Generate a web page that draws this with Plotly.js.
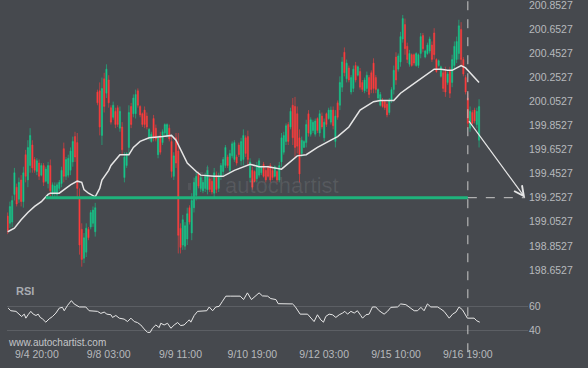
<!DOCTYPE html>
<html><head><meta charset="utf-8">
<script src="https://cdn.plot.ly/plotly-3.0.1.min.js"></script>
<style>html,body{margin:0;padding:0;background:#45484d;}#chart{width:588px;height:368px;}</style>
</head><body><div id="chart"></div>
<script>
const tickIdx = [13,45,77,109,141,173,205];
const tickLabels = ['9/4 20:00','9/8 03:00','9/9 11:00','9/10 19:00','9/12 03:00','9/15 10:00','9/16 19:00'];
const priceTicks = [198.6527,198.8527,199.0527,199.2527,199.4527,199.6527,199.8527,200.0527,200.2527,200.4527,200.6527,200.8527];
const rsiTicks = [40,60];

const open = [199.10,199.04,199.05,199.28,199.34,199.24,199.40,199.22,199.61,199.40,
199.52,199.69,199.57,199.47,199.54,199.44,199.52,199.39,199.37,199.52,
199.28,199.29,199.28,199.33,199.37,199.66,199.43,199.44,199.48,199.55,
199.76,199.71,199.25,198.99,198.75,198.80,198.99,199.01,199.04,198.97,
200.13,200.14,199.77,200.24,200.12,200.23,200.00,199.92,199.97,200.00,
199.83,199.84,199.42,199.52,199.67,200.01,199.95,199.95,200.14,200.01,
199.95,199.98,199.93,199.75,199.72,199.91,199.83,199.61,199.77,199.71,
199.79,199.77,199.83,199.72,199.43,199.75,199.64,199.00,198.86,198.85,
198.91,199.17,198.96,199.17,199.27,199.45,199.33,199.31,199.33,199.32,
199.41,199.39,199.29,199.44,199.33,199.43,199.47,199.52,199.59,199.48,
199.60,199.57,199.59,199.69,199.56,199.57,199.75,199.76,199.42,199.48,
199.47,199.41,199.44,199.46,199.53,199.48,199.51,199.52,199.48,199.43,
199.47,199.40,199.55,199.63,199.72,199.86,199.84,200.02,200.01,199.95,
199.75,199.62,199.67,199.71,199.95,199.78,199.81,199.78,199.91,199.79,
199.93,199.75,199.95,199.91,199.88,199.98,199.72,200.04,200.02,200.17,
200.46,200.24,200.33,200.13,200.16,200.35,200.27,200.30,200.21,200.14,
200.16,200.25,200.29,200.37,200.25,200.08,200.02,200.06,200.05,200.03,
199.96,200.06,200.15,200.42,200.32,200.38,200.57,200.69,200.51,200.36,
200.44,200.44,200.35,200.35,200.45,200.60,200.42,200.45,200.47,200.52,
200.62,200.40,200.35,200.26,200.29,200.30,200.21,200.30,200.21,200.35,
200.40,200.45,200.65,200.40,200.25,200.08,199.83,199.96,199.98,199.86,
199.73];
const high = [199.13,199.22,199.27,199.50,199.37,199.42,199.44,199.51,199.65,199.73,
199.83,199.73,199.59,199.58,199.57,199.54,199.54,199.51,199.55,199.57,
199.38,199.38,199.38,199.40,199.51,199.71,199.59,199.61,199.67,199.76,
199.80,199.79,199.33,199.04,198.96,199.04,199.01,199.15,199.18,199.21,
200.15,200.21,200.25,200.29,200.36,200.27,200.02,200.05,200.00,200.02,
200.01,199.88,199.63,199.63,200.02,200.04,200.11,200.15,200.16,200.02,
199.96,200.01,199.96,199.83,199.80,199.94,199.86,199.77,199.80,199.82,
199.87,199.87,199.86,199.77,199.63,199.79,199.79,199.04,199.11,199.05,
199.17,199.19,199.29,199.42,199.47,199.47,199.44,199.40,199.46,199.52,
199.43,199.42,199.50,199.47,199.46,199.54,199.59,199.69,199.61,199.65,
199.72,199.73,199.61,199.71,199.75,199.82,199.77,199.81,199.58,199.51,
199.48,199.55,199.58,199.52,199.55,199.50,199.52,199.54,199.50,199.52,
199.48,199.55,199.79,199.80,199.87,199.88,200.00,200.08,200.09,200.01,
199.82,199.76,199.73,199.90,199.98,199.92,199.90,199.91,199.92,199.98,
199.96,199.91,199.96,200.00,200.01,200.01,199.98,200.06,200.26,200.42,
200.50,200.40,200.35,200.27,200.35,200.38,200.35,200.33,200.23,200.25,
200.30,200.27,200.31,200.41,200.27,200.16,200.13,200.08,200.06,200.05,
200.08,200.17,200.35,200.46,200.45,200.63,200.77,200.74,200.54,200.48,
200.45,200.45,200.46,200.45,200.62,200.62,200.48,200.54,200.59,200.55,
200.66,200.41,200.40,200.35,200.31,200.34,200.30,200.34,200.44,200.55,
200.59,200.73,200.71,200.42,200.27,200.12,200.01,199.98,200.00,200.00,
200.07];
const low = [198.95,199.00,199.01,199.23,199.18,199.21,199.18,199.17,199.38,199.34,
199.46,199.46,199.46,199.44,199.40,199.43,199.35,199.38,199.33,199.26,
199.26,199.26,199.26,199.31,199.34,199.38,199.40,199.42,199.44,199.51,
199.55,199.25,198.78,198.68,198.71,198.76,198.90,198.99,199.01,198.93,
200.02,199.77,199.69,199.96,200.08,200.00,199.86,199.90,199.83,199.84,
199.80,199.61,199.38,199.50,199.61,199.83,199.92,199.91,200.00,199.92,
199.84,199.83,199.82,199.73,199.71,199.72,199.72,199.58,199.61,199.69,
199.77,199.75,199.72,199.42,199.40,199.50,198.79,198.79,198.82,198.82,
198.86,199.03,198.90,199.13,199.23,199.33,199.30,199.29,199.30,199.28,
199.30,199.28,199.25,199.29,199.30,199.40,199.44,199.50,199.50,199.46,
199.58,199.55,199.52,199.59,199.52,199.52,199.59,199.52,199.38,199.32,
199.38,199.38,199.42,199.44,199.42,199.38,199.42,199.38,199.40,199.42,
199.38,199.38,199.51,199.61,199.69,199.69,199.82,199.69,199.59,199.62,
199.38,199.59,199.67,199.67,199.76,199.76,199.79,199.76,199.79,199.76,
199.82,199.72,199.84,199.90,199.86,199.82,199.67,199.90,199.98,200.13,
200.26,200.21,200.21,200.11,200.13,200.21,200.26,200.15,200.13,200.12,
200.13,200.08,200.12,200.12,200.12,200.06,200.01,200.00,199.98,199.92,
199.94,200.04,200.11,200.19,200.30,200.34,200.54,200.44,200.37,200.34,
200.34,200.35,200.34,200.33,200.41,200.46,200.41,200.44,200.45,200.38,
200.40,200.29,200.34,200.25,200.13,200.09,200.19,200.08,200.17,200.31,
200.37,200.40,200.34,200.26,200.11,199.83,199.80,199.86,199.87,199.83,
199.67];
const close = [198.98,199.18,199.23,199.46,199.20,199.38,199.22,199.46,199.43,199.67,
199.77,199.50,199.48,199.56,199.43,199.52,199.38,199.49,199.52,199.31,
199.36,199.35,199.36,199.38,199.48,199.43,199.57,199.58,199.64,199.72,
199.59,199.33,198.86,198.74,198.92,199.00,198.92,199.13,199.15,199.17,
200.04,199.84,200.16,200.01,200.32,200.04,199.88,200.02,199.86,199.86,
199.97,199.65,199.59,199.62,199.96,199.86,200.08,200.11,200.02,199.94,
199.86,199.86,199.84,199.82,199.78,199.75,199.74,199.75,199.63,199.80,
199.86,199.86,199.74,199.47,199.60,199.54,198.94,198.84,199.07,199.02,
199.12,199.05,199.23,199.38,199.43,199.35,199.42,199.38,199.43,199.48,
199.32,199.30,199.46,199.32,199.43,199.52,199.57,199.67,199.52,199.62,
199.70,199.71,199.54,199.61,199.72,199.77,199.62,199.57,199.55,199.34,
199.39,199.52,199.56,199.51,199.43,199.40,199.43,199.40,199.42,199.51,
199.40,199.52,199.75,199.77,199.85,199.72,199.97,199.75,199.67,199.68,
199.45,199.73,199.72,199.86,199.79,199.90,199.88,199.89,199.81,199.95,
199.84,199.88,199.86,199.98,199.98,199.85,199.93,199.92,200.21,200.38,
200.29,200.37,200.23,200.25,200.32,200.23,200.34,200.17,200.15,200.23,
200.27,200.11,200.15,200.16,200.15,200.15,200.11,200.01,200.00,199.94,
200.06,200.15,200.31,200.23,200.43,200.59,200.74,200.49,200.40,200.45,
200.35,200.37,200.45,200.44,200.59,200.49,200.47,200.52,200.57,200.40,
200.44,200.30,200.39,200.34,200.16,200.13,200.28,200.12,200.40,200.51,
200.55,200.68,200.40,200.28,200.13,199.87,199.97,199.87,199.89,199.97,
200.01];

const maX = [0,3,6,9,12,15,18,19,23,25,28,31,33,34,36,39,41,42,45,46,49,50,54,56,59,63,69,73,75,77,80,84,86,92,96,101,105,108,112,116,122,125,129,133,138,144,147,152,157,163,166,172,175,178,181,185,190,193,196,198,202,204,207,210];
const maY = [198.97,199.00,199.07,199.13,199.18,199.22,199.28,199.29,199.29,199.32,199.36,199.39,199.38,199.32,199.29,199.26,199.33,199.40,199.48,199.52,199.59,199.61,199.61,199.67,199.72,199.75,199.76,199.77,199.73,199.65,199.54,199.47,199.44,199.43,199.43,199.48,199.51,199.53,199.51,199.51,199.49,199.54,199.60,199.61,199.67,199.73,199.76,199.84,199.98,200.05,200.06,200.06,200.12,200.16,200.20,200.26,200.32,200.32,200.31,200.31,200.35,200.33,200.27,200.21];

const rsiX = [0.2,1.4,3.7,5.1,6.2,7.4,8.1,9.1,10.3,11.4,12.6,13.6,14.5,15.5,17.0,18.5,20.0,21.5,23.0,24.4,25.2,26.7,28.4,29.6,31.9,34.8,36.3,40.0,41.5,43.0,44.2,46.0,46.7,48.2,49.7,51.9,53.4,54.9,56.4,57.8,59.3,60.8,62.3,63.5,64.5,66.0,67.5,68.2,69.7,71.2,72.7,74.2,75.7,77.1,78.6,80.1,80.9,81.6,83.1,84.6,86.8,88.7,89.8,91.3,92.7,94.2,95.7,97.2,99.4,103.6,105.1,106.8,108.6,110.6,112.0,113.5,115.8,117.2,119.5,120.5,123.2,126.9,128.0,129.1,130.3,133.6,135.1,136.5,138.0,139.5,140.7,141.7,143.2,144.7,146.2,147.7,149.2,150.2,151.4,152.9,154.4,155.8,157.3,158.1,159.6,161.0,162.5,164.0,165.5,167.7,169.2,170.7,173.7,175.1,177.4,178.9,181.1,182.6,184.1,185.5,187.0,188.5,191.5,193.0,194.4,196.7,198.2,199.7,201.1,202.6,204.1,204.8,207.8,209.0,210.3];
const rsiY = [58.3,56.1,55.6,53.3,51.4,53.3,50.0,52.8,55.6,53.3,52.2,53.3,50.6,49.4,46.7,49.4,51.4,54.2,58.3,58.9,56.1,60.6,64.4,61.7,59.2,59.2,56.1,55.6,53.9,55.0,53.3,52.8,50.6,52.2,50.0,49.2,47.2,50.0,47.2,46.4,44.4,41.1,38.3,38.3,41.7,44.4,42.2,45.8,44.4,45.8,41.7,44.4,46.4,43.9,44.4,47.2,48.6,46.7,52.2,55.6,56.1,56.1,59.2,56.1,59.2,59.7,63.9,68.1,68.1,68.1,65.3,70.8,65.3,68.9,70.8,68.3,68.1,66.1,65.3,61.9,61.7,61.7,59.7,56.9,53.3,53.3,50.0,47.2,52.8,48.6,46.7,51.4,53.3,52.8,50.6,52.8,54.2,55.6,53.3,55.6,54.2,56.1,52.2,50.0,52.8,53.3,59.2,59.2,56.1,53.3,55.6,58.9,59.2,61.7,61.1,59.2,56.1,56.1,58.9,56.1,61.7,59.2,59.2,57.5,55.6,50.0,53.3,55.0,59.2,56.9,52.8,50.0,50.0,47.8,46.7];

const levelPrice = 199.2527;
const levelStart = 17;
const signalIdx = 205;
const signalPrice = 199.90;
const targetIdx = 230.5;

const BG = '#46494e', TXT = '#b7b9bd', UP = '#16c98b', DOWN = '#ff3d3d';
const idx = open.map((_, i) => i);

const traces = [
  {type:'candlestick', x: idx, open: open, high: high, low: low, close: close,
   xaxis:'x', yaxis:'y', whiskerwidth:0, hoverinfo:'skip',
   increasing:{line:{color:UP, width:0.6}, fillcolor:UP},
   decreasing:{line:{color:DOWN, width:0.6}, fillcolor:DOWN}},
  {type:'scatter', mode:'lines', x: maX, y: maY, xaxis:'x', yaxis:'y',
   line:{color:'#e6e6e6', width:1.5}, hoverinfo:'skip'},
  {type:'scatter', mode:'lines', x: rsiX, y: rsiY, xaxis:'x', yaxis:'y2',
   line:{color:'#e8e8e8', width:1}, hoverinfo:'skip'}
];

const wmBars = [[188,191,183],[194,197,178],[200,203,172],[206,209,167]];
const wmShapes = wmBars.map(b => ({type:'rect', xref:'paper', yref:'paper',
  x0:(b[0]-7)/521, x1:(b[1]-7)/521, y0:(346-190)/346, y1:(346-b[2])/346,
  line:{width:0}, fillcolor:'rgba(255,255,255,0.07)', layer:'below'}));

const layout = {
  width:588, height:368,
  margin:{l:7, r:60, t:0, b:22},
  paper_bgcolor:BG, plot_bgcolor:BG, showlegend:false,
  font:{family:'"Liberation Sans", Arial, sans-serif', size:10.5, color:TXT},
  xaxis:{range:[-0.3,231.8], tickvals:tickIdx, ticktext:tickLabels, showgrid:false, zeroline:false,
         showline:false, ticks:'', anchor:'y2', rangeslider:{visible:false}, fixedrange:true,
         tickfont:{size:10.5, color:TXT}},
  yaxis:{domain:[0.2052,1], range:[198.611,200.894], side:'right', tickvals:priceTicks,
         ticktext:priceTicks.map(v => v.toFixed(4)), showgrid:false, zeroline:false, showline:false,
         ticks:'', ticklabeloverflow:'allow', tickfont:{size:10.5, color:TXT}, fixedrange:true},
  yaxis2:{domain:[0,0.1908], range:[27.1,81.4], side:'right', tickvals:rsiTicks,
          showgrid:true, gridcolor:'#5c5f64', gridwidth:1, zeroline:false, showline:false,
          ticks:'', tickfont:{size:10.5, color:TXT}, fixedrange:true},
  shapes:[
    {type:'line', xref:'x', yref:'y', x0:levelStart, x1:signalIdx, y0:levelPrice, y1:levelPrice,
     line:{color:'#1fb37c', width:3}},
    {type:'line', xref:'x', yref:'y', x0:signalIdx, x1:targetIdx, y0:levelPrice, y1:levelPrice,
     line:{color:'#c9c9c9', width:1, dash:'dash'}},
    {type:'line', xref:'x', yref:'paper', x0:signalIdx, x1:signalIdx, y0:-0.018, y1:1,
     line:{color:'#c9c9c9', width:1, dash:'dash'}}
  ].concat(wmShapes),
  annotations:[
    {x:targetIdx, y:levelPrice, xref:'x', yref:'y', ax:signalIdx, ay:signalPrice, axref:'x', ayref:'y',
     showarrow:true, arrowhead:5, arrowsize:1.6, arrowwidth:1.2, arrowcolor:'#e6e6e6', text:''},
    {text:'autochartist', xref:'paper', yref:'paper', x:0.528, y:0.465, xanchor:'center', yanchor:'middle',
     showarrow:false, font:{size:22, color:'rgba(255,255,255,0.09)'}},
    {text:'<b>RSI</b>', xref:'paper', yref:'paper', x:0.0134, y:0.159, xanchor:'left', yanchor:'middle',
     showarrow:false, font:{size:11, color:'#a9acb1'}},
    {text:'www.autochartist.com', xref:'paper', yref:'paper', x:-0.002, y:0.009, xanchor:'left', yanchor:'middle',
     showarrow:false, font:{size:10, color:'#c3c5c8'}}
  ]
};

Plotly.newPlot('chart', traces, layout, {staticPlot:true, displayModeBar:false});
</script></body></html>
